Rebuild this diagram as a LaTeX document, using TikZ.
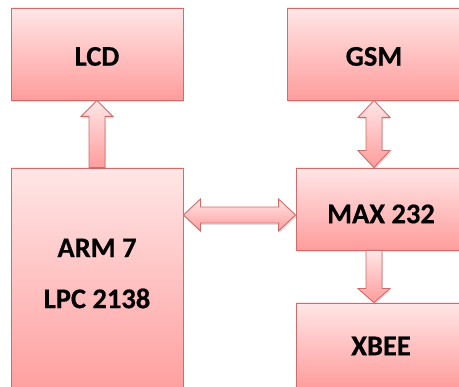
\documentclass[tikz,border=0pt]{standalone}
\usepackage{fontspec}
\setmainfont{Carlito}[BoldFeatures={FakeBold=0.5}]
\usetikzlibrary{shadows,calc}
\definecolor{boxtop}{HTML}{FFE6E6}
\definecolor{boxbot}{HTML}{FF9C9C}
\definecolor{boxline}{HTML}{CF6B6B}
\tikzset{
  blk/.style={draw=boxline, line width=0.9pt, top color=boxtop, bottom color=boxbot,
    drop shadow={opacity=0.25, shadow xshift=1pt, shadow yshift=-2pt},
    font=\fontsize{28.5}{32}\selectfont\bfseries, text=black, inner sep=0pt,
    text height=23.4pt, text depth=0pt},
  barrow/.style={draw=boxline, line width=0.9pt, line join=miter, top color=boxtop, bottom color=boxbot,
    drop shadow={opacity=0.25, shadow xshift=1pt, shadow yshift=-2pt}},
  lbl/.style={font=\fontsize{28.5}{51}\selectfont\bfseries, text=black, align=center, inner sep=0pt}
}
\begin{document}
\begin{tikzpicture}[x=1pt,y=-1pt]
\useasboundingbox (0,0) rectangle (459,387);
\node[blk, minimum width=172pt, minimum height=92pt] (lcd) at (97,54) {LCD};
\node[blk, minimum width=174pt, minimum height=92pt] (gsm) at (374,54) {GSM};
\node[blk, minimum width=172pt, minimum height=232pt] (arm) at (97,284) {};
\node[lbl] (armtxt) at (97,273.5) {ARM 7\\LPC 2138};
\node[blk, minimum width=170pt, minimum height=82pt, text height=28.4pt] (max) at (381,209) {MAX 232};
\node[blk, minimum width=170pt, minimum height=85pt, text height=19.4pt] (xbee) at (381,345.5) {XBEE};
% LCD <- ARM
\path[barrow] let \p1=(lcd.south), \p2=(lcd.south |- arm.north) in
  (\p1) -- (\x1+16pt,\y1-16pt) -- (\x1+8pt,\y1-16pt) -- (\x1+8pt,\y2) -- (\x1-8pt,\y2)
  -- (\x1-8pt,\y1-16pt) -- (\x1-16pt,\y1-16pt) -- cycle;
% GSM <-> MAX
\path[barrow] let \p1=(gsm.south), \p2=(gsm.south |- max.north) in
  (\p1) -- (\x1+16pt,\y1-17pt) -- (\x1+8pt,\y1-17pt) -- (\x1+8pt,\y2+17pt) -- (\x1+16pt,\y2+17pt)
  -- (\p2) -- (\x1-16pt,\y2+17pt) -- (\x1-8pt,\y2+17pt) -- (\x1-8pt,\y1-17pt) -- (\x1-16pt,\y1-17pt) -- cycle;
% MAX -> XBEE
\path[barrow] let \p1=(gsm.south |- max.south), \p2=(gsm.south |- xbee.north) in
  (\x1-8pt,\y1) -- (\x1+8pt,\y1) -- (\x1+8pt,\y2+14pt) -- (\x1+16pt,\y2+14pt) -- (\p2)
  -- (\x1-16pt,\y2+14pt) -- (\x1-8pt,\y2+14pt) -- cycle;
% ARM <-> MAX
\path[barrow] let \p1=($(arm.east |- max.west)+(0,6)$), \p2=($(max.west)+(0,6)$) in
  (\p1) -- (\x1+17pt,\y1+16pt) -- (\x1+17pt,\y1+8pt) -- (\x2-17pt,\y1+8pt) -- (\x2-17pt,\y1+16pt)
  -- (\p2) -- (\x2-17pt,\y1-16pt) -- (\x2-17pt,\y1-8pt) -- (\x1+17pt,\y1-8pt) -- (\x1+17pt,\y1-16pt) -- cycle;
\end{tikzpicture}
\end{document}
